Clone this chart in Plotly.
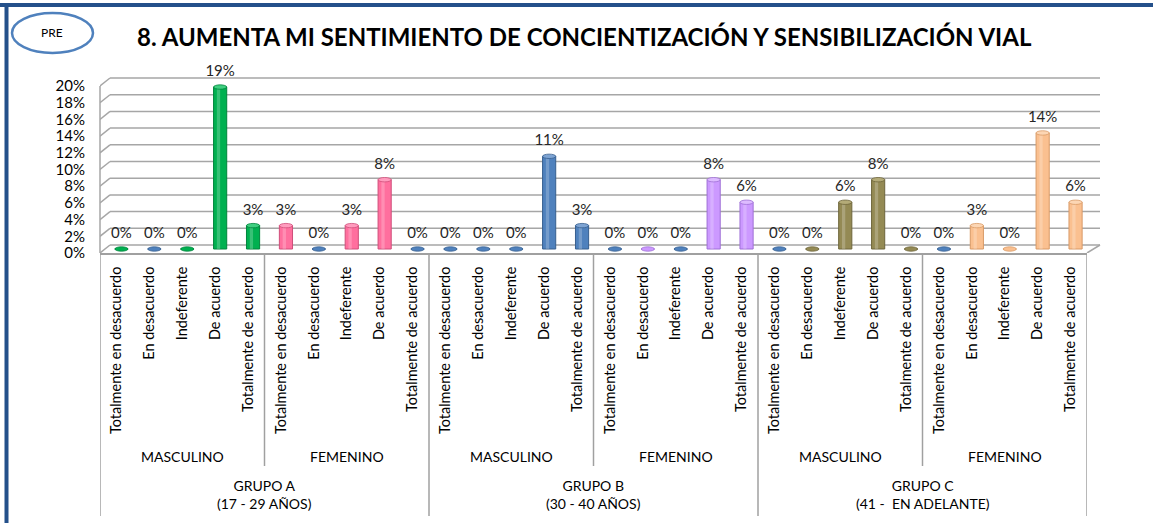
import plotly.graph_objects as go

# ---------------- data ----------------
responses = ["Totalmente en desacuerdo", "En desacuerdo", "Indeferente",
             "De acuerdo", "Totalmente de acuerdo"]
sexes = ["MASCULINO", "FEMENINO"]
groups = ["GRUPO A<br>(17 - 29 AÑOS)", "GRUPO B<br>(30 - 40 AÑOS)",
          "GRUPO C<br>(41 -  EN ADELANTE)"]

grupo_a_masculino = [0, 0, 0, 19.4, 2.8]
grupo_a_femenino = [2.8, 0, 2.8, 8.3, 0]
grupo_b_masculino = [0, 0, 0, 11.1, 2.8]
grupo_b_femenino = [0, 0, 0, 8.3, 5.6]
grupo_c_masculino = [0, 0, 5.6, 8.3, 0]
grupo_c_femenino = [0, 2.8, 0, 13.9, 5.6]

y_ticks = [0, 2, 4, 6, 8, 10, 12, 14, 16, 18, 20]
y_ticktext = [f"{v}%" for v in y_ticks]

# ---------------- styles ----------------
PAL = {
    "G": ("#00B050", "#00843C", "#3FCF80"),
    "P": ("#FF6F9E", "#D04E7A", "#FF9CBE"),
    "B": ("#4F81BD", "#375F8F", "#7EA4D3"),
    "V": ("#CC99FF", "#9E6FD6", "#DDBBFF"),
    "O": ("#948A54", "#6E663B", "#B4AB78"),
    "E": ("#FAC090", "#D99A66", "#FCD6B4"),
}
bar_color_keys = (["G", "B", "G", "G", "G"] + ["P", "B", "P", "P", "B"] +
                  ["B", "B", "B", "B", "B"] + ["B", "V", "B", "V", "V"] +
                  ["B", "O", "O", "O", "O"] + ["B", "E", "E", "E", "E"])

values = (grupo_a_masculino + grupo_a_femenino + grupo_b_masculino +
          grupo_b_femenino + grupo_c_masculino + grupo_c_femenino)
n = len(values)
xs = list(range(n))
labels = [f"{round(v):d}%" for v in values]
ticktext = responses * 6

FONT = "Lato, Arial, sans-serif"

# ---------------- layout geometry (pixels) ----------------
W, H = 1153, 523
L, R, T, B = 100, 66, 76, 270
PW, PH = W - L - R, H - T - B
YMAX = 21.2
CAT = PW / n
SC = PH / YMAX
DX, DY = 10, 8          # 3D depth offset for back wall
BX, BY = 5, 4           # bars sit at mid depth


def px(x):
    return (x - L) / PW


def py(y):
    return (H - B - y) / PH


fig = go.Figure()

fig.add_trace(go.Bar(
    x=xs, y=values, xaxis="x2", yaxis="y2", width=0.4,
    marker=dict(color=[PAL[k][0] for k in bar_color_keys],
                line=dict(color=[PAL[k][1] for k in bar_color_keys], width=1)),
    hoverinfo="skip", showlegend=False,
))
# cylinder highlight
fig.add_trace(go.Bar(
    x=xs, y=values, xaxis="x2", yaxis="y2", width=0.1, offset=-0.1,
    marker=dict(color="rgba(255,255,255,0.22)", line=dict(width=0)),
    hoverinfo="skip", showlegend=False,
))
fig.add_trace(go.Scatter(
    x=xs, y=values, xaxis="x2", yaxis="y2", mode="markers+text", text=labels,
    marker=dict(size=10, color="rgba(0,0,0,0)"),
    textposition="top center", cliponaxis=False,
    textfont=dict(family=FONT, size=15, color="#262626"),
    hoverinfo="skip", showlegend=False,
))

shapes = []
grid_col = "#A6A6A6"
# gridlines (3D style: slant + back line)
for v in y_ticks:
    shapes.append(dict(type="line", layer="below", xref="x", yref="y",
                       xsizemode="pixel", xanchor=-0.5, x0=0, x1=DX,
                       ysizemode="pixel", yanchor=v, y0=0, y1=DY,
                       line=dict(color=grid_col, width=1.5)))
    shapes.append(dict(type="line", layer="below", xref="paper", yref="y",
                       x0=DX / PW, x1=1 + 13 / PW,
                       ysizemode="pixel", yanchor=v, y0=DY, y1=DY,
                       line=dict(color=grid_col, width=1.5)))
# left front vertical of wall
shapes.append(dict(type="line", layer="below", xref="paper", yref="y",
                   x0=0, x1=0, y0=0, y1=20, line=dict(color=grid_col, width=1.5)))
# right floor slant
shapes.append(dict(type="line", layer="below", xref="paper", yref="y",
                   x0=1, x1=1 + 13 / PW, ysizemode="pixel", yanchor=0, y0=0, y1=DY,
                   line=dict(color=grid_col, width=1.5)))

# cylinder caps / zero ellipses
for i, (v, k) in enumerate(zip(values, bar_color_keys)):
    fill = PAL[k][2] if v > 0 else PAL[k][0]
    shapes.append(dict(type="circle", xref="x2", yref="y2",
                       xsizemode="pixel", xanchor=i, x0=-6.6, x1=6.6,
                       ysizemode="pixel", yanchor=v, y0=-2.2, y1=2.2,
                       fillcolor=fill, line=dict(color=PAL[k][1], width=0.8)))

# category table lines below the axis
sep_col = "#A0A0A0"
for j in range(6):
    xb = -0.5 + 5 * j + 5
    if j % 2 == 0:
        shapes.append(dict(type="line", xref="x", yref="paper", x0=xb, x1=xb,
                           y0=py(253), y1=py(466), line=dict(color=sep_col, width=1.5)))
for j in range(4):
    xb = -0.5 + 10 * j
    shapes.append(dict(type="line", xref="x", yref="paper", x0=xb, x1=xb,
                       y0=py(253), y1=py(516), line=dict(color=sep_col, width=1.5)))

# outer frame (dark blue)
shapes.append(dict(type="line", xref="paper", yref="paper", x0=px(0), x1=px(W),
                   y0=py(5), y1=py(5), line=dict(color="#24508A", width=4)))
shapes.append(dict(type="line", xref="paper", yref="paper", x0=px(6.5), x1=px(6.5),
                   y0=py(3), y1=py(H), line=dict(color="#24508A", width=4)))
# PRE ellipse
shapes.append(dict(type="circle", xref="paper", yref="paper", x0=px(12), x1=px(93),
                   y0=py(53), y1=py(13), fillcolor="white",
                   line=dict(color="#4F81BD", width=2.5)))

annotations = []
annotations.append(dict(text="PRE", xref="paper", yref="paper", x=px(52), y=py(33),
                        showarrow=False, xanchor="center", yanchor="middle",
                        font=dict(family=FONT, size=12, color="#000")))
annotations.append(dict(text="<b>8. AUMENTA MI SENTIMIENTO DE CONCIENTIZACIÓN Y SENSIBILIZACIÓN VIAL</b>",
                        xref="paper", yref="paper", x=px(584), y=py(36),
                        showarrow=False, xanchor="center", yanchor="middle",
                        font=dict(family=FONT, size=24, color="#000")))
for j in range(6):
    annotations.append(dict(text=sexes[j % 2], xref="x", yref="paper", x=5 * j + 2,
                            y=py(456), showarrow=False, yanchor="middle",
                            font=dict(family=FONT, size=14, color="#000")))
for g in range(3):
    annotations.append(dict(text=groups[g], xref="x", yref="paper", x=10 * g + 4.5,
                            y=py(494), showarrow=False, yanchor="middle",
                            font=dict(family=FONT, size=14, color="#000")))

fig.update_layout(
    width=W, height=H,
    margin=dict(l=L, r=R, t=T, b=B, autoexpand=False),
    paper_bgcolor="white", plot_bgcolor="rgba(0,0,0,0)",
    showlegend=False, barmode="overlay",
    xaxis=dict(domain=[0, 1], range=[-0.5, n - 0.5], tickmode="array",
               tickvals=xs, ticktext=ticktext, tickangle=-90, ticks="",
               ticklabelstandoff=6, showgrid=False, zeroline=False,
               showline=True, linecolor=sep_col, linewidth=1.5,
               tickfont=dict(family=FONT, size=14.5, color="#000"),
               fixedrange=True),
    yaxis=dict(domain=[0, 1], range=[0, YMAX], tickmode="array",
               tickvals=y_ticks, ticktext=y_ticktext, ticks="",
               ticklabelstandoff=14, showgrid=False, zeroline=False,
               showline=False,
               tickfont=dict(family=FONT, size=15, color="#000"),
               fixedrange=True),
    xaxis2=dict(domain=[0, 1], anchor="y2",
                range=[-0.5 - BX / CAT, n - 0.5 - BX / CAT], visible=False,
                fixedrange=True),
    yaxis2=dict(domain=[0, 1], anchor="x2",
                range=[-BY / SC, YMAX - BY / SC], visible=False, fixedrange=True),
    shapes=shapes, annotations=annotations,
)

fig.write_html("out.html", config={"displayModeBar": False},
               post_script="document.body.style.margin='0';document.body.style.overflow='hidden';")
